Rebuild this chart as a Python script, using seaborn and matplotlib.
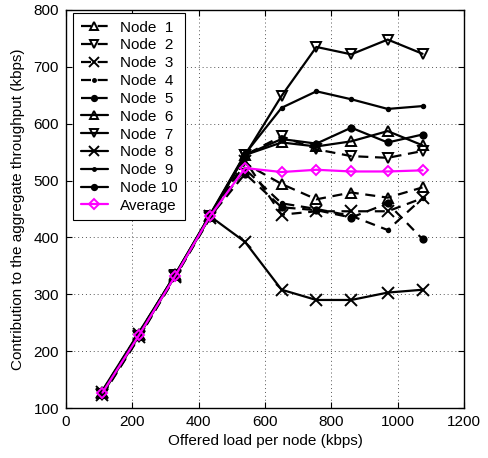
import matplotlib
matplotlib.use("Agg")
import matplotlib.pyplot as plt
import seaborn as sns
import pandas as pd

# ---- data ----
offered_load = [110, 220, 330, 435, 540, 650, 755, 860, 970, 1075]

node1 = [126, 229, 334, 438, 530, 494, 467, 479, 470, 488]
node2 = [123, 225, 332, 436, 545, 578, 555, 543, 540, 552]
node3 = [122, 224, 331, 435, 535, 440, 446, 446, 446, 469]
node4 = [130, 232, 335, 439, 520, 460, 450, 438, 413, 469]
node5 = [124, 226, 333, 437, 512, 453, 448, 435, 460, 397]
node6 = [129, 231, 336, 440, 545, 567, 560, 569, 587, 562]
node7 = [125, 227, 334, 438, 545, 649, 735, 722, 748, 723]
node8 = [128, 230, 333, 437, 392, 308, 290, 290, 303, 308]
node9 = [131, 233, 335, 441, 547, 628, 657, 643, 626, 631]
node10 = [127, 228, 334, 439, 545, 573, 565, 593, 567, 581]
average = [127, 228, 333, 438, 522, 515, 519, 516, 516, 518]

series_names = ["Node  1", "Node  2", "Node  3", "Node  4", "Node  5",
                "Node  6", "Node  7", "Node  8", "Node  9", "Node 10", "Average"]
series_values = [node1, node2, node3, node4, node5,
                 node6, node7, node8, node9, node10, average]

x_ticks = [0, 200, 400, 600, 800, 1000, 1200]
y_ticks = [100, 200, 300, 400, 500, 600, 700, 800]
x_label = "Offered load per node (kbps)"
y_label = "Contribution to the aggregate throughput (kbps)"

# ---- styles ----
styles = [
    dict(color="black", ls="--", marker="^", mfc="none", ms=7),
    dict(color="black", ls="--", marker="v", mfc="none", ms=7),
    dict(color="black", ls="--", marker="x", mfc="none", ms=8),
    dict(color="black", ls="--", marker=".", mfc="black", ms=5),
    dict(color="black", ls="--", marker="o", mfc="black", ms=4.5),
    dict(color="black", ls="-", marker="^", mfc="none", ms=7),
    dict(color="black", ls="-", marker="v", mfc="none", ms=7),
    dict(color="black", ls="-", marker="x", mfc="none", ms=8),
    dict(color="black", ls="-", marker=".", mfc="black", ms=5),
    dict(color="black", ls="-", marker="o", mfc="black", ms=4.5),
    dict(color="#ff00ff", ls="-", marker="D", mfc="none", ms=5.5),
]

FS = 11

sns.set_theme(style="white")
plt.rcParams["font.family"] = ["Liberation Sans", "DejaVu Sans"]
plt.rcParams.update({"text.color": "black", "axes.labelcolor": "black",
                     "xtick.color": "black", "ytick.color": "black"})

fig = plt.figure(figsize=(4.88, 4.58), dpi=100)
ax = fig.add_axes([66 / 488, 50 / 458, (464 - 66) / 488, (408 - 10) / 458])

for name, vals, st in zip(series_names, series_values, styles):
    df = pd.DataFrame({"x": offered_load, "y": vals})
    dashed = st["ls"] == "--"
    sns.lineplot(data=df, x="x", y="y", ax=ax, sort=False, estimator=None,
                 color=st["color"], linewidth=1.6,
                 marker=st["marker"], markersize=st["ms"],
                 markerfacecolor=st["mfc"], markeredgecolor=st["color"],
                 markeredgewidth=1.4, label=name)
    if dashed:
        ax.lines[-1].set_dashes((4.5, 3))

ax.set_xlim(0, 1200)
ax.set_ylim(100, 800)
ax.set_xticks(x_ticks)
ax.set_yticks(y_ticks)
ax.set_xlabel(x_label, fontsize=FS, labelpad=4, color="black")
ax.set_ylabel(y_label, fontsize=FS, labelpad=6, color="black")
ax.tick_params(axis="both", which="both", direction="in", length=4,
               width=0.8, labelsize=FS, top=True, right=True,
               bottom=True, left=True, color="black", labelcolor="black",
               pad=5)
ax.grid(True, linestyle=(0, (1, 3)), color="#555555", linewidth=0.7)
for sp in ax.spines.values():
    sp.set_color("black")
    sp.set_linewidth(1.0)

leg = ax.legend(loc="upper left", bbox_to_anchor=(7 / 398, 1 - 3 / 398),
                borderaxespad=0, fontsize=FS, frameon=True, fancybox=False,
                edgecolor="black", framealpha=1, handlelength=1.8,
                labelspacing=0.25, borderpad=0.5, handletextpad=0.75,
                markerscale=0.85)
leg.get_frame().set_linewidth(0.8)
for t in leg.get_texts():
    t.set_color("black")

fig.savefig("out.png", dpi=100)
